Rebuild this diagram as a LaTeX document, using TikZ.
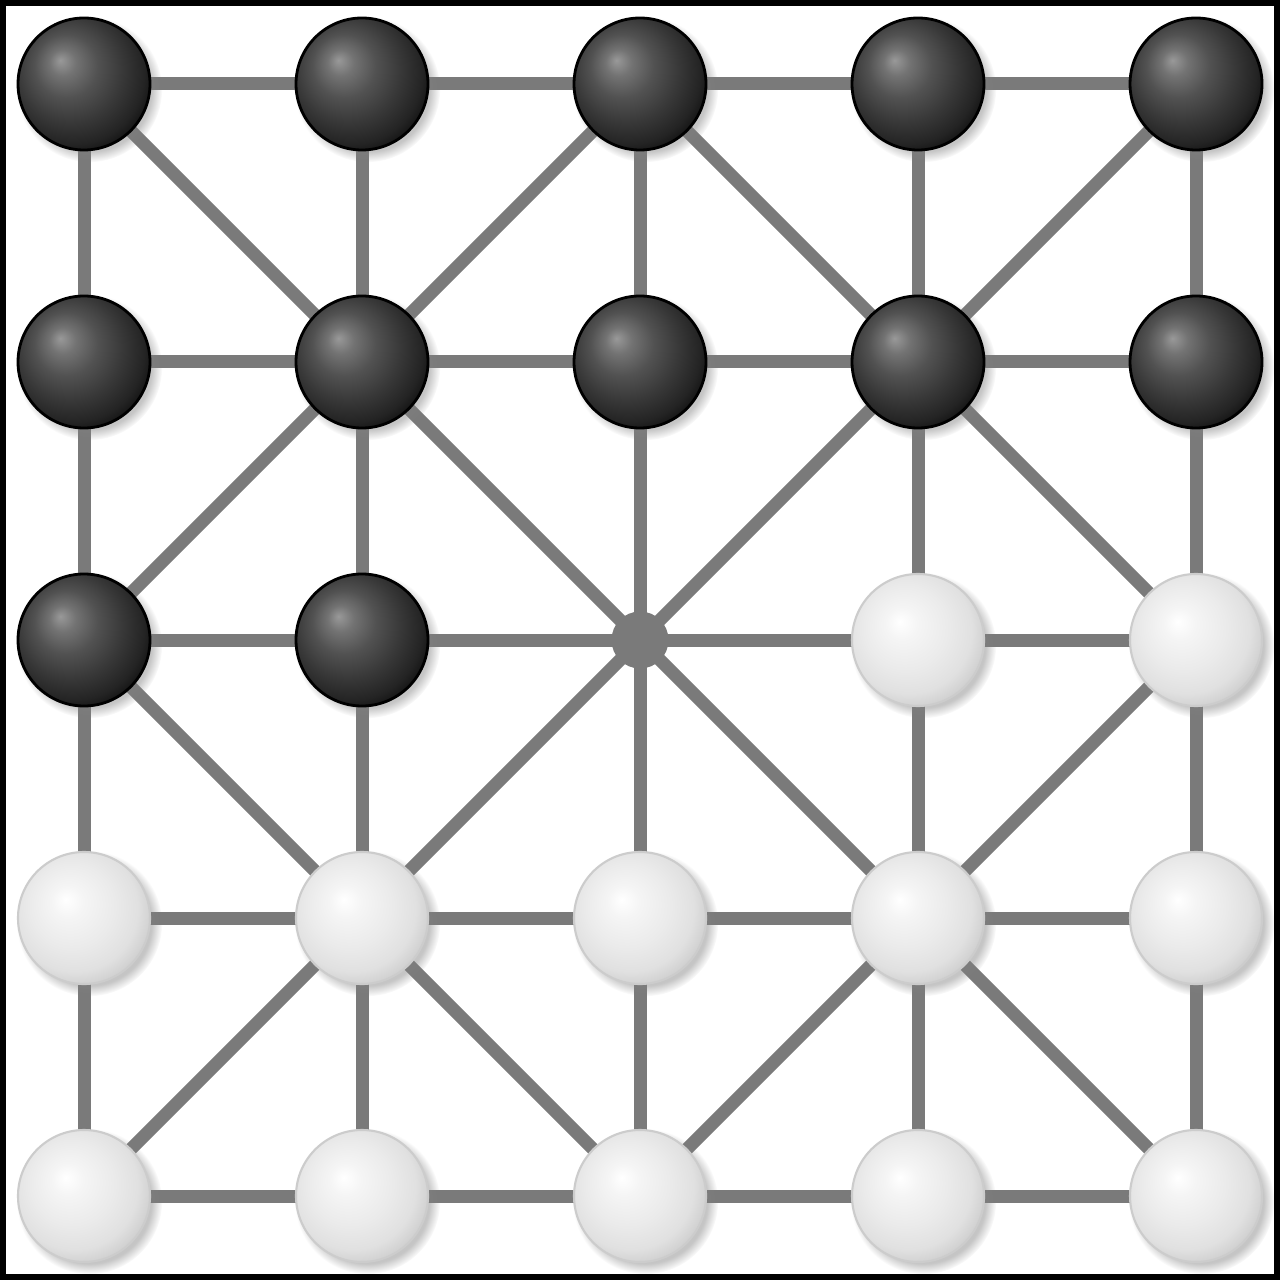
\documentclass[tikz,border=0pt]{standalone}
\usetikzlibrary{shadows,fadings}

\definecolor{linegray}{RGB}{122,122,122}
\pgfdeclareradialshading{blackball}{\pgfpoint{-9bp}{9bp}}{%
 color(0bp)=(black!40); color(5bp)=(black!55); color(12bp)=(black!68);
 color(20bp)=(black!78); color(27bp)=(black!86); color(32bp)=(black!95);
 color(35bp)=(black); color(50bp)=(black)}
\pgfdeclareradialshading{whiteball}{\pgfpoint{-7bp}{7bp}}{%
 color(0bp)=(white); color(6bp)=(black!4); color(16bp)=(black!8);
 color(24bp)=(black!12); color(30bp)=(black!20); color(36bp)=(black!30);
 color(50bp)=(black!30)}

\tikzset{
 boardline/.style={linegray, line width=0.13cm},
 piece/.style={circle, inner sep=0pt, minimum size=1.32cm,
  circular drop shadow={shadow xshift=0.05cm, shadow yshift=-0.05cm,
   shadow scale=1.1, opacity=0.45}},
 blackpiece/.style={piece, shading=blackball, draw=black, line width=0.8pt},
 whitepiece/.style={piece, shading=whiteball, draw=black!20, line width=0.6pt},
 hole/.style={circle, fill=linegray, inner sep=0pt, minimum size=0.57cm}
}

\begin{document}
\begin{tikzpicture}[x=2.78cm, y=-2.78cm, shift={(0.84cm,-0.84cm)}]
\useasboundingbox (-0.302158,-0.302158) rectangle (4.302158,4.302158);
\fill[white] (-0.302158,-0.302158) rectangle (4.302158,4.302158);
\draw[black, line width=0.06cm] (-0.291367,-0.291367) rectangle (4.291367,4.291367);
\foreach \i in {0,...,4}
 \foreach \j in {0,...,4}
  \coordinate (p\i\j) at (\i,\j);
% board lines
\foreach \k in {0,...,4} {
 \draw[boardline] (p0\k) -- (p4\k);
 \draw[boardline] (p\k0) -- (p\k4);
}
\draw[boardline] (p00) -- (p44);
\draw[boardline] (p40) -- (p04);
\draw[boardline] (p20) -- (p02) -- (p24) -- (p42) -- cycle;
\node[hole] (mid) at (p22) {};
% pieces
\foreach \i in {0,...,4}
 \foreach \j in {0,1}
  \node[blackpiece] (b\i\j) at (p\i\j) {};
\foreach \i in {0,1}
 \node[blackpiece] (b\i2) at (p\i2) {};
\foreach \i in {3,4}
 \node[whitepiece] (w\i2) at (p\i2) {};
\foreach \i in {0,...,4}
 \foreach \j in {3,4}
  \node[whitepiece] (w\i\j) at (p\i\j) {};
\end{tikzpicture}
\end{document}
